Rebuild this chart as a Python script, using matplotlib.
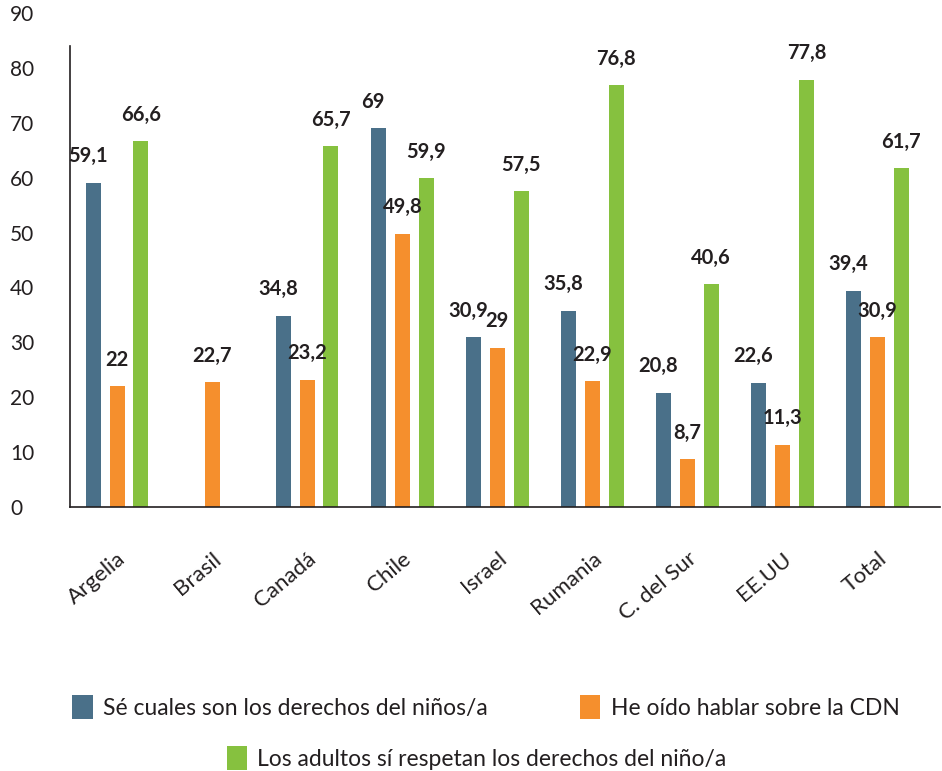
import numpy as np
import matplotlib.pyplot as plt
from matplotlib.patches import Patch

plt.rcParams['font.family'] = ['Lato', 'DejaVu Sans']

paises = ['Argelia', 'Brasil', 'Canadá', 'Chile', 'Israel', 'Rumania', 'C. del Sur', 'EE.UU', 'Total']
se_derechos = [59.1, np.nan, 34.8, 69, 30.9, 35.8, 20.8, 22.6, 39.4]
oido_cdn = [22, 22.7, 23.2, 49.8, 29, 22.9, 8.7, 11.3, 30.9]
respetan = [66.6, np.nan, 65.7, 59.9, 57.5, 76.8, 40.6, 77.8, 61.7]

series = [
    (se_derechos, '#4a7089', 'Sé cuales son los derechos del niños/a'),
    (oido_cdn, '#f58f2d', 'He oído hablar sobre la CDN'),
    (respetan, '#86c13f', 'Los adultos sí respetan los derechos del niño/a'),
]
tinta = '#231f20'

fig = plt.figure(figsize=(9.42, 7.71), dpi=100)
ax = fig.add_axes([0.0743, 0.3424, 0.924, 0.6407])

x = np.arange(len(paises))
ancho = 0.158
paso = 0.25
for i, (vals, color, _) in enumerate(series):
    pos = x + (i - 1) * paso
    ax.bar(pos, vals, width=ancho, color=color)
    for px, v in zip(pos, vals):
        if np.isnan(v):
            continue
        txt = ('%g' % v).replace('.', ',')
        # la etiqueta azul se corre un poco a la izquierda para no pisar la naranja
        dx = -4 if i == 0 else 0
        ax.annotate(txt, (px, v), xytext=(dx, 12), textcoords='offset points',
                    ha='center', va='bottom', fontsize=14.5, fontweight='bold',
                    color=tinta)

ax.set_xlim(-0.495, 8.66)
ax.set_ylim(0, 90)
ax.set_yticks(range(0, 91, 10))
ax.set_xticks(x)
ax.set_xticklabels(paises, rotation=40, ha='right', rotation_mode='anchor',
                   fontsize=16, color=tinta)
ax.tick_params(axis='y', length=0, pad=43, labelsize=15, labelcolor=tinta)
ax.tick_params(axis='x', length=0, pad=30)
for lbl in ax.get_yticklabels():
    lbl.set_horizontalalignment('left')

ax.spines['top'].set_visible(False)
ax.spines['right'].set_visible(False)
ax.spines['left'].set_bounds(0, 84)
ax.spines['left'].set_color(tinta)
ax.spines['bottom'].set_color(tinta)
ax.spines['left'].set_linewidth(1.2)
ax.spines['bottom'].set_linewidth(1.2)

handles = [Patch(facecolor=c, label=l) for _, c, l in series]
kw = dict(frameon=False, fontsize=16.5, handlelength=0.9, handleheight=1.2,
          handletextpad=0.45, labelcolor=tinta)
fig.legend(handles=handles[:2], ncol=2, loc='center', bbox_to_anchor=(0.516, 0.083),
           columnspacing=4.0, **kw)
fig.legend(handles=handles[2:], loc='center', bbox_to_anchor=(0.506, 0.017), **kw)

fig.savefig('out.png', dpi=100)
